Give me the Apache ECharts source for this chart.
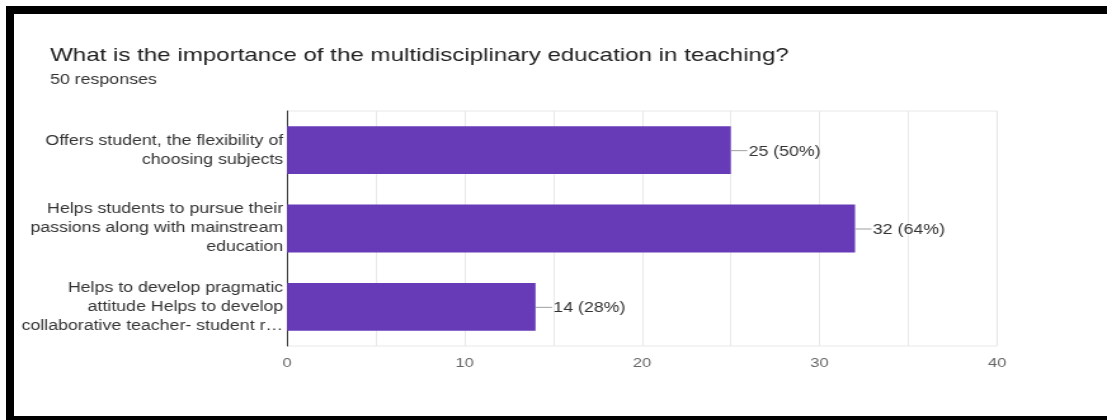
<!DOCTYPE html>
<html>
<head>
<meta charset="utf-8">
<script src="https://cdn.jsdelivr.net/npm/echarts@6/dist/echarts.min.js"></script>
<style>
  html, body { margin: 0; padding: 0; background: #fff; overflow: hidden; width: 1107px; height: 420px; }
  /* black card frame: thick top and left edges, thin bottom edge */
  #frame {
    position: absolute; left: 6px; top: 6px;
    width: 1093px; height: 402px;
    border-top: 8px solid #000; border-left: 8px solid #000; border-bottom: 4px solid #000;
    pointer-events: none;
  }
  /* the chart is laid out at a narrower width and widened horizontally */
  #chart {
    position: absolute; left: 0; top: 0;
    width: 872px; height: 420px;
    transform: scaleX(1.26950); transform-origin: 0 0;
  }
</style>
</head>
<body>
<div id="chart"></div>
<div id="frame"></div>
<script>
const titleText = 'What is the importance of the multidisciplinary education in teaching?';
const subtitleText = '50 responses';
const totalResponses = 50;

const categories = [
  'Offers student, the flexibility of\nchoosing subjects',
  'Helps students to pursue their\npassions along with mainstream\neducation',
  'Helps to develop pragmatic\nattitude Helps to develop\ncollaborative teacher- student r\u2026'
];
const counts = [25, 32, 14];
const xTickLabels = [0, 10, 20, 30, 40];

const FONT = '"Liberation Sans", Arial, Helvetica, sans-serif';
const chart = echarts.init(document.getElementById('chart'), null, { renderer: 'canvas' });

chart.setOption({
  animation: false,
  backgroundColor: 'transparent',
  textStyle: { fontFamily: FONT },
  graphic: [
    { type: 'text', x: 39.4, y: 55.5, silent: true,
      style: { text: titleText, fill: '#212121', fontSize: 19, fontFamily: FONT, verticalAlign: 'middle' } },
    { type: 'text', x: 39.4, y: 80, silent: true,
      style: { text: subtitleText, fill: '#333', fontSize: 14, fontFamily: FONT, verticalAlign: 'middle' } }
  ],
  grid: {
    left: 226.1, right: 86.6, top: 111, bottom: 74,
    show: true, borderColor: '#e8e8e8', borderWidth: 1
  },
  xAxis: {
    type: 'value', min: 0, max: 40, interval: 5,
    axisLine: { show: false }, axisTick: { show: false },
    splitLine: { show: true, lineStyle: { color: '#e8e8e8', width: 1 } },
    axisLabel: {
      showMinLabel: true, showMaxLabel: true,
      formatter: v => (xTickLabels.includes(v) ? String(v) : ''),
      color: '#666', fontSize: 13, fontFamily: FONT, margin: 11
    }
  },
  yAxis: {
    type: 'category', data: categories, inverse: true,
    axisLine: { show: true, lineStyle: { color: '#333', width: 1 } },
    axisTick: { show: false },
    splitLine: { show: false },
    axisLabel: { color: '#333', fontSize: 14, lineHeight: 19, fontFamily: FONT, margin: 3, align: 'right',
                 padding: [3, 0, 0, 0] }
  },
  series: [
    {
      type: 'bar', data: counts, barCategoryGap: '39%', silent: true,
      itemStyle: { color: '#673ab7' }
    },
    {
      // leader line plus "count (percent)" text at the end of each bar
      type: 'custom', silent: true, clip: false, z: 3,
      data: counts.map((v, i) => [v, i]),
      encode: { x: 0, y: 1 },
      renderItem: (params, api) => {
        const v = api.value(0);
        const p = api.coord([v, api.value(1)]);
        const pct = Math.round(v / totalResponses * 100);
        return {
          type: 'group',
          children: [
            { type: 'line', shape: { x1: p[0], y1: p[1] + 0.5, x2: p[0] + 13, y2: p[1] + 0.5 },
              style: { stroke: '#9e9e9e', lineWidth: 1 } },
            { type: 'text', x: p[0] + 14, y: p[1] + 1.5,
              style: { text: v + ' (' + pct + '%)', fill: '#333', fontSize: 14, fontFamily: FONT,
                       align: 'left', verticalAlign: 'middle' } }
          ]
        };
      }
    }
  ]
});
</script>
</body>
</html>
